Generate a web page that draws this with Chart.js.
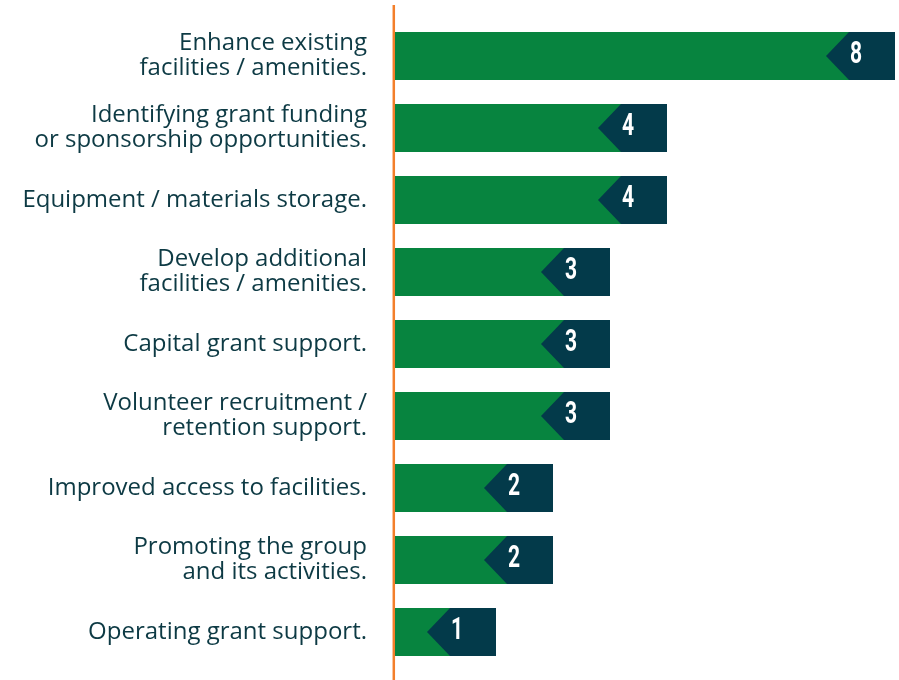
<!DOCTYPE html>
<html>
<head>
<meta charset="utf-8">
<script src="https://cdn.jsdelivr.net/npm/chart.js@4"></script>
<style>
  html, body { margin: 0; padding: 0; background: #fff; }
  #wrap { width: 899px; height: 680px; }
</style>
</head>
<body>
<div id="wrap"><canvas id="grafico"></canvas></div>
<script>
const categorias = [
    ['Enhance existing', 'facilities / amenities.'],
    ['Identifying grant funding', 'or sponsorship opportunities.'],
    'Equipment / materials storage.',
    ['Develop additional', 'facilities / amenities.'],
    'Capital grant support.',
    ['Volunteer recruitment /', 'retention support.'],
    'Improved access to facilities.',
    ['Promoting the group', 'and its activities.'],
    'Operating grant support.'
]
const respostas = [8, 4, 4, 3, 3, 3, 2, 2, 1]

const verde = '#07843f'
const azul = '#033a4a'
const laranja = '#f37f2b'
const inicio = -44 / 57

// orange axis line, drawn taller than the chart area
const linhaEixo = {
    id: 'linhaEixo',
    beforeDatasetsDraw(chart) {
        const ctx = chart.ctx
        const x = chart.scales.x.getPixelForValue(inicio) - 1.2
        ctx.save()
        ctx.strokeStyle = laranja
        ctx.lineWidth = 2.5
        ctx.beginPath()
        ctx.moveTo(x, 5)
        ctx.lineTo(x, 680)
        ctx.stroke()
        ctx.restore()
    }
}

// dark notched tag with the value at the end of each bar
const etiquetas = {
    id: 'etiquetas',
    afterDatasetsDraw(chart) {
        const ctx = chart.ctx
        const meta = chart.getDatasetMeta(0)
        meta.data.forEach((barra, i) => {
            const fim = barra.x
            const topo = barra.y - barra.height / 2
            const baixo = barra.y + barra.height / 2
            ctx.save()
            ctx.fillStyle = azul
            ctx.beginPath()
            ctx.moveTo(fim - 46, topo)
            ctx.lineTo(fim, topo)
            ctx.lineTo(fim, baixo)
            ctx.lineTo(fim - 46, baixo)
            ctx.lineTo(fim - 69, barra.y)
            ctx.closePath()
            ctx.fill()
            // condensed look: squeeze the digit horizontally
            ctx.translate(fim - 39, barra.y - 1)
            ctx.scale(0.68, 1)
            ctx.fillStyle = '#ffffff'
            ctx.font = 'bold 31px Roboto, sans-serif'
            ctx.textAlign = 'center'
            ctx.textBaseline = 'middle'
            ctx.fillText(String(respostas[i]), 0, 0)
            ctx.restore()
        })
    }
}

const config = {
    type: 'bar',
    data: {
        labels: categorias,
        datasets: [
            {
                data: respostas,
                base: inicio,
                backgroundColor: verde,
                borderWidth: 0,
                categoryPercentage: 1,
                barPercentage: 0.667
            }
        ]
    },
    options: {
        indexAxis: 'y',
        responsive: true,
        maintainAspectRatio: false,
        animation: false,
        layout: { padding: { top: 20, bottom: 12, left: 0, right: 4 } },
        plugins: {
            legend: { display: false },
            tooltip: { enabled: false }
        },
        scales: {
            x: {
                display: false,
                min: inicio,
                max: 8
            },
            y: {
                afterFit(scale) {
                    scale.width = 395
                    scale.paddingTop = 0
                    scale.paddingBottom = 0
                },
                grid: { display: false, drawTicks: false },
                border: { display: false },
                ticks: {
                    color: '#0d3a44',
                    padding: 28,
                    font: { family: '"Open Sans"', size: 24, lineHeight: 1.05 }
                }
            }
        }
    },
    plugins: [linhaEixo, etiquetas]
}

const meuGrafico = new Chart(document.querySelector('#grafico'), config)
</script>
</body>
</html>
